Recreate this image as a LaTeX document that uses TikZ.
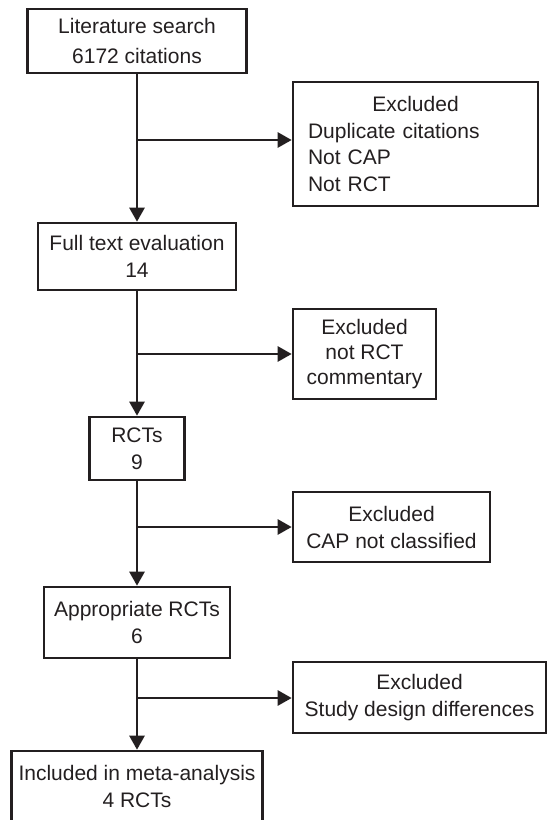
\documentclass[tikz,border=0pt]{standalone}
\usepackage{fontspec}
\setmainfont{Liberation Sans}
\usepackage{tikz}
\usetikzlibrary{arrows.meta}
\definecolor{flowink}{RGB}{35,31,32}

\begin{document}
\begin{tikzpicture}[x=1pt,y=-1pt,
    stagebox/.style={draw=flowink,line width=2.6pt,text=flowink,align=center,
      inner sep=0pt,font=\fontsize{21}{27}\selectfont},
    flowarrow/.style={draw=flowink,line width=2.6pt,-{Triangle[length=14pt,width=15pt]}}]
  \clip (0,0) rectangle (547,820);
  \def\mx{137}
  \node[stagebox,minimum width=219pt,minimum height=64pt,font=\fontsize{21}{30}\selectfont]
    (lit) at (\mx,41) {Literature search\\6172 citations};
  \node[stagebox,minimum width=198pt,minimum height=67pt] (full) at (\mx,256.5) {Full text evaluation\\14};
  \node[stagebox,minimum width=95pt,minimum height=63pt] (rcts) at (\mx,448.5) {RCTs\\9};
  \node[stagebox,minimum width=186pt,minimum height=71pt] (appr) at (\mx,622.5) {Appropriate RCTs\\6};
  \node[stagebox,minimum width=251pt,minimum height=71pt] (incl) at (\mx,786.5) {Included in meta-analysis\\4 RCTs};
  \node[stagebox,align=left,text width=215pt,minimum width=245pt,minimum height=124pt,
    font=\fontsize{21}{26.5}\selectfont]
    (ex1) at (415.5,144) {\makebox[\linewidth][c]{Excluded}\\Duplicate citations\\Not CAP\\Not RCT};
  \node[stagebox,minimum width=143pt,minimum height=90pt,font=\fontsize{21}{25}\selectfont]
    (ex2) at (364.5,354) {Excluded\\not RCT\\commentary};
  \node[stagebox,minimum width=197pt,minimum height=70pt] (ex3) at (391.5,527) {Excluded\\CAP not classified};
  \node[stagebox,minimum width=253pt,minimum height=71pt] (ex4) at (419.5,697.5) {Excluded\\Study design differences};
  \coordinate (b1) at (\mx,140);
  \coordinate (b2) at (\mx,354);
  \coordinate (b3) at (\mx,527);
  \coordinate (b4) at (\mx,698);
  \foreach \a/\b in {lit/full,full/rcts,rcts/appr,appr/incl}
    \draw[flowarrow] (\a) -- (\b);
  \foreach \b/\e in {b1/ex1,b2/ex2,b3/ex3,b4/ex4}
    \draw[flowarrow] (\b) -- (\b -| \e.west);
\end{tikzpicture}
\end{document}
